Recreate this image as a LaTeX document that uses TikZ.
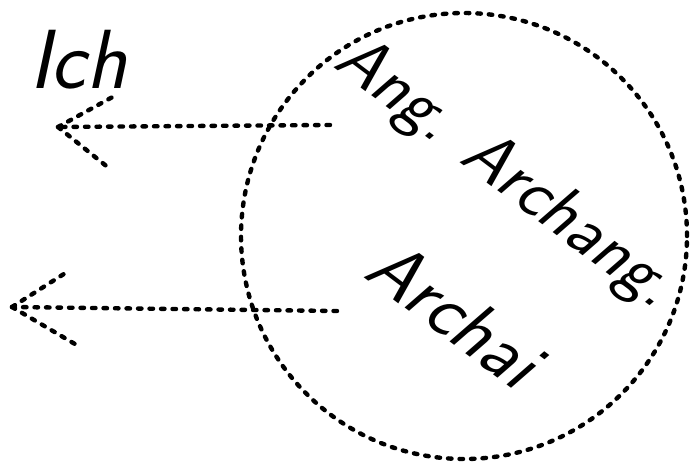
\documentclass[tikz,border=0pt]{standalone}
\usetikzlibrary{arrows.meta}
\tikzset{
	dots/.style={black, line width=4.4pt, line cap=round, dash pattern=on 3.5pt off 8pt},
	realm/.style={dots, draw, circle, minimum size=446pt, inner sep=0pt},
	hand/.style={font=\fontsize{70}{78}\selectfont\sffamily\itshape, inner sep=0pt},
}
\begin{document}
\begin{tikzpicture}[x=1pt,y=-1pt]
			\useasboundingbox (0,0) rectangle (690,468);
			
			% Circle of the hierarchies
			\node[realm] (hier) at (464,236) {};
			
			% Labels inside the circle
			\node[hand, rotate=-37] (angarch) at (504,174) {Ang. Archang.};
			\node[hand, rotate=-37, font=\fontsize{76}{84}\selectfont\sffamily\itshape] (archai) at (455,313) {Archai};
			
			% Label top left
			\node[hand, font=\fontsize{84}{90}\selectfont\sffamily\itshape] (ich) at (78,60) {Ich};
			
			% Upper arrow
			\coordinate (tipA) at (58,127);
			\coordinate (fromA) at (330,125);
			\draw[dots] (fromA) -- (tipA);
			\draw[dots] (tipA) -- ++(60,-33);
			\draw[dots] (tipA) -- ++(52,42);
			
			% Lower arrow
			\coordinate (tipB) at (12,307);
			\coordinate (fromB) at (337,311);
			\draw[dots] (fromB) -- (tipB);
			\draw[dots] (tipB) -- ++(68,40);
			\draw[dots] (tipB) -- ++(55,-35);
			
		\end{tikzpicture}
\end{document}
